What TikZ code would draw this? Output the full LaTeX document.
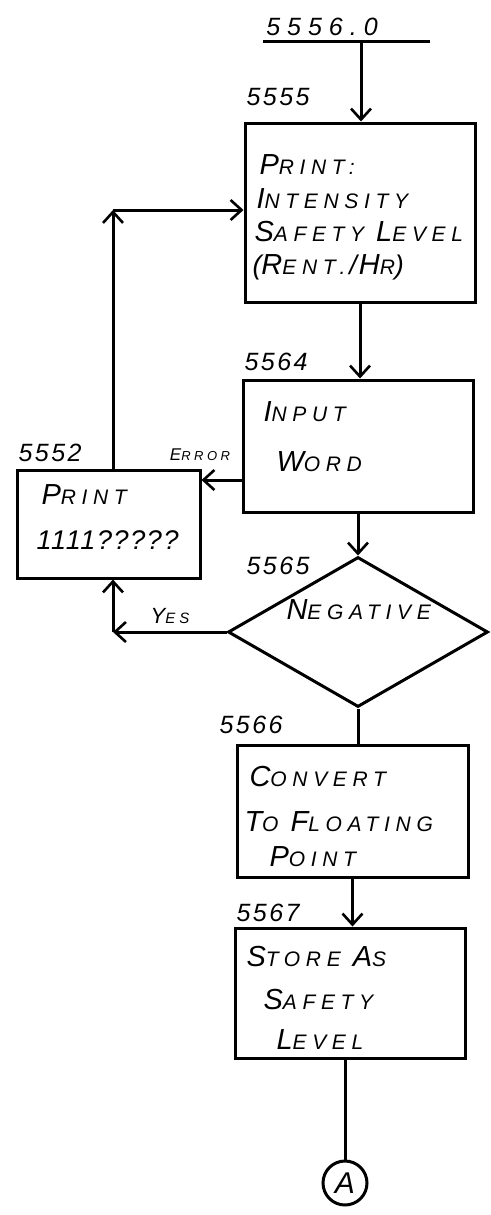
\documentclass[tikz,border=0pt]{standalone}
\usepackage{fontspec}
\setmainfont{Liberation Sans}[LetterSpace=27]
\usetikzlibrary{shapes.geometric,arrows.meta}
\newcommand{\SC}[2]{{\fontsize{29}{32}\selectfont #1}{\fontsize{21}{24}\selectfont #2}}
\newcommand{\numtxt}[2][10]{{\fontsize{25}{28}\selectfont\itshape\addfontfeature{LetterSpace=#1}#2}}
\newcommand{\gap}{\hspace*{12pt}}
\begin{document}
\begin{tikzpicture}[x=1pt,y=-1pt,
  line width=3pt,
  arr/.style={-{Straight Barb[length=11pt,width=20pt,line width=2.6pt]}},
  box/.style={draw,rectangle,inner sep=0pt},
  txt/.style={inner sep=0pt,anchor=base west,font=\itshape},
  num/.style={inner sep=0pt,anchor=west,font=\itshape},
  lbl/.style={inner sep=0pt,font=\itshape}]
\useasboundingbox (0,0) rectangle (490,1215);

% entry
\node[lbl] (entry) at (322,27) {\numtxt[28]{5556.0}};
\coordinate (ul) at (263,42);
\coordinate (ur) at (430,42);
\coordinate (top) at (361,42);
\draw (ul) -- (ur);

% 5555
\node[box,minimum width=230pt,minimum height=179pt] (b5555) at (360,212.5) {};
\node[num] (n5555) at (245,97) {\numtxt{5555}};
\node[txt] (t5555a) at (258,174) {\SC{P}{RINT:}};
\node[txt] (t5555b) at (255,208) {\SC{I}{NTENSITY}};
\node[txt] (t5555c) at (253,241) {\SC{S}{AFETY}\gap\SC{L}{EVEL}};
\node[txt] (t5555d) at (251,274) {{\fontsize{27}{30}\selectfont(}\SC{R}{ENT.}\hspace*{4pt}{\fontsize{27}{30}\selectfont/\hspace*{2pt}}\SC{H}{R}{\fontsize{27}{30}\selectfont)}};

% 5564
\node[box,minimum width=230pt,minimum height=132pt] (b5564) at (358,446) {};
\node[num] (n5564) at (243,362) {\numtxt{5564}};
\node[txt] (t5564a) at (262,421) {\SC{I}{NPUT}};
\node[txt] (t5564b) at (275,471) {\SC{W}{ORD}};

% 5552
\node[box,minimum width=183pt,minimum height=108pt] (b5552) at (108.5,524) {};
\node[num] (n5552) at (17,453) {\numtxt{5552}};
\node[txt] (t5552a) at (40,504) {\SC{P}{RINT}};
\node[txt] (t5552b) at (35,549) {{\fontsize{27}{30}\selectfont\addfontfeature{LetterSpace=6}1111?????}};

% 5565
\node[draw,diamond,minimum width=260pt,minimum height=150pt,inner sep=0pt] (d5565) at (358,632) {};
\node[num] (n5565) at (245,566) {\numtxt{5565}};
\node[txt] (t5565) at (285,619) {\SC{N}{EGATIVE}};

% 5566
\node[box,minimum width=231pt,minimum height=132pt] (b5566) at (352.5,811) {};
\node[num] (n5566) at (218,725) {\numtxt{5566}};
\node[txt] (t5566a) at (248,786) {\SC{C}{ONVERT}};
\node[txt] (t5566b) at (243,831) {\SC{T}{O}\gap\SC{F}{LOATING}};
\node[txt] (t5566c) at (268,866) {\SC{P}{OINT}};

% 5567
\node[box,minimum width=230pt,minimum height=130pt] (b5567) at (350,993) {};
\node[num] (n5567) at (235,913) {\numtxt{5567}};
\node[txt] (t5567a) at (245,966) {\SC{S}{TORE}\gap\SC{A}{S}};
\node[txt] (t5567b) at (262,1009) {\SC{S}{AFETY}};
\node[txt] (t5567c) at (275,1049) {\SC{L}{EVEL}};

% connector circle
\node[draw,circle,minimum size=44pt,inner sep=0pt,font=\itshape] (cA) at (345,1183) {\fontsize{30}{32}\selectfont A};

% labels
\node[lbl] (terr) at (200,455) {{\fontsize{17}{18}\selectfont E}{\fontsize{13}{14}\selectfont RROR}};
\node[lbl] (tyes) at (170,616) {{\fontsize{22}{24}\selectfont Y}{\fontsize{15}{16}\selectfont ES}};

% main column
\draw[arr] (top) -- (top |- b5555.north);
\draw[arr] (b5555.south) -- (b5555.south |- b5564.north);
\draw[arr] (b5564.south) -- (d5565.north);
\draw (d5565.south) -- (d5565.south |- b5566.north);
\draw[arr] (b5566.south) -- (b5566.south |- b5567.north);
\draw (cA.north |- b5567.south) -- (cA.north);

% error branch
\coordinate (e) at (243,480);
\draw[arr] (e) -- (e -| b5552.east);

% loop back
\coordinate (c1) at (113,210);
\draw[arr] (b5552.north -| c1) -- (c1);
\draw[arr] (c1) -- (c1 -| b5555.west);

% yes branch
\coordinate (c2) at (113,632);
\draw[arr] (d5565.west) -- (c2);
\draw[arr] (c2) -- (c2 |- b5552.south);
\end{tikzpicture}
\end{document}
